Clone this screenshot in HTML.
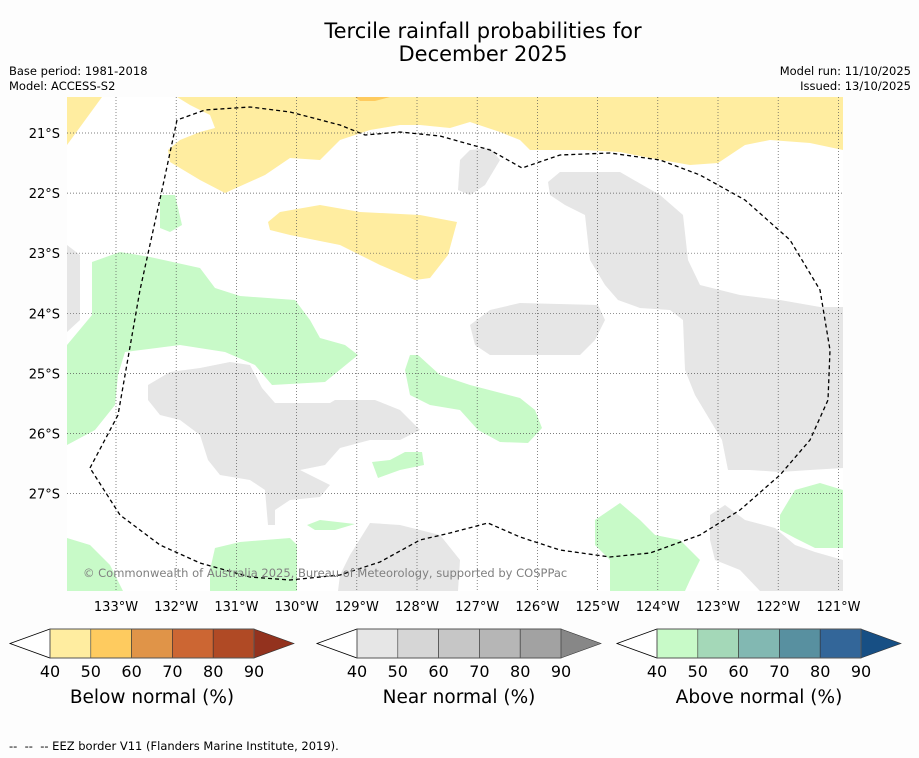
<!DOCTYPE html>
<html><head><meta charset="utf-8">
<style>
body{margin:0;background:#fdfdfd;width:919px;height:758px;overflow:hidden;font-family:"Liberation Sans","DejaVu Sans",sans-serif;}
svg{position:absolute;left:0;top:0}
</style></head>
<body>
<svg width="919" height="758" viewBox="0 0 919 758" xmlns="http://www.w3.org/2000/svg" font-family="'DejaVu Sans','Liberation Sans',sans-serif">
<rect width="919" height="758" fill="#fdfdfd"/>
<text x="483" y="38" text-anchor="middle" font-size="21" fill="#000">Tercile rainfall probabilities for</text>
<text x="483" y="61" text-anchor="middle" font-size="21" fill="#000">December 2025</text>
<text x="9" y="75" font-size="11.5">Base period: 1981-2018</text>
<text x="9" y="90" font-size="11.5">Model: ACCESS-S2</text>
<text x="911" y="75" font-size="11.5" text-anchor="end">Model run: 11/10/2025</text>
<text x="911" y="90" font-size="11.5" text-anchor="end">Issued: 13/10/2025</text>

<defs><clipPath id="mapclip"><rect x="67" y="97" width="776" height="494"/></clipPath></defs>
<g clip-path="url(#mapclip)">
<rect x="67" y="97" width="776" height="494" fill="#ffffff"/>
<g fill="#ffeda0">
<polygon points="67,97 102,97 67,145"/>
<polygon points="177,97 843,97 843,150 810,143 770,140 745,145 718,163 690,165 650,158 620,152 585,150 530,150 520,140 500,132 470,122 450,128 420,125 400,125 370,130 340,140 330,150 320,160 290,158 265,175 225,193 200,180 170,162 168,150 180,140 200,132 215,128 210,115 190,105"/>
<polygon points="268,222 280,212 320,205 360,212 420,215 457,222 448,255 430,278 415,280 380,265 340,245 290,235 270,230"/>
<polygon points="355,97 390,97 375,101 360,101" fill="#fecb5f"/>
</g>
<g fill="#c8fac8">
<polygon points="67,345 92,315 92,262 120,252 150,257 200,268 215,288 240,296 295,300 310,320 320,338 345,345 358,355 325,382 272,385 255,365 225,352 180,345 125,352 118,375 115,405 95,430 67,445"/>
<polygon points="160,195 175,195 182,225 170,232 160,228"/>
<polygon points="410,355 418,355 440,375 470,385 520,398 535,410 542,428 528,443 500,442 478,430 460,410 430,405 410,395 405,370"/>
<polygon points="372,462 390,460 405,452 422,452 424,465 400,470 378,478"/>
<polygon points="307,525 320,520 355,524 335,530 315,530"/>
<polygon points="67,538 90,545 110,565 123,591 67,591"/>
<polygon points="215,548 240,542 290,538 297,545 297,591 210,591 210,570"/>
<polygon points="595,520 620,503 640,520 655,535 680,540 700,560 690,580 685,591 610,591 610,560 595,545"/>
<polygon points="780,515 795,490 820,483 843,490 843,548 815,548 795,538 780,530"/>
</g>
<g fill="#e6e6e6">
<polygon points="67,245 80,255 80,320 67,332"/>
<polygon points="148,385 170,372 200,368 230,362 250,365 262,388 275,403 330,403 335,400 375,400 400,410 420,430 400,440 370,440 340,448 325,465 300,470 330,485 320,497 290,500 275,510 275,525 268,525 265,490 250,480 220,475 208,460 200,435 180,420 160,415 148,400"/>
<polygon points="340,575 350,555 370,523 400,525 440,535 460,560 458,591 338,591"/>
<polygon points="460,160 470,150 490,148 500,160 485,185 470,195 458,190"/>
<polygon points="548,182 560,172 620,172 660,195 683,215 688,260 700,285 740,295 780,300 820,307 843,307 843,468 810,470 780,472 750,470 728,470 722,440 695,395 685,370 683,320 670,310 640,308 618,300 605,285 590,260 585,215 565,205 550,195"/>
<polygon points="470,325 490,310 520,303 598,305 605,320 595,340 580,355 490,355 475,345"/>
<polygon points="710,515 725,505 745,520 775,528 795,545 815,552 843,560 843,591 760,591 740,570 715,560 710,540"/>
</g>
<g id="grid" stroke="#555" stroke-width="0.7" stroke-dasharray="1,2"></g>
<polyline fill="none" stroke="#000" stroke-width="1.3" stroke-dasharray="4,3" points="90,468 118,415 140,290 162,190 177,120 205,110 250,107 290,112 340,125 365,135 400,132 440,136 490,150 522,168 560,155 610,153 660,160 700,175 745,200 790,240 820,290 830,350 828,400 810,440 780,475 740,510 700,535 650,553 610,557 560,550 520,537 488,523 450,533 420,540 380,562 340,575 290,580 250,577 200,563 160,545 120,515 90,468"/>
<text x="83" y="577" font-size="11.5" fill="#808080">© Commonwealth of Australia 2025, Bureau of Meteorology, supported by COSPPac</text>
</g>
<g id="axes" font-size="13"></g>
<g id="bars"></g>
<text x="9" y="750" font-size="11.5" xml:space="preserve" style="white-space:pre">--  --  -- EEZ border V11 (Flanders Marine Institute, 2019).</text>
</svg>
<script>
const lonLabels=["133°W","132°W","131°W","130°W","129°W","128°W","127°W","126°W","125°W","124°W","123°W","122°W","121°W"];
const lonValues=[-133,-132,-131,-130,-129,-128,-127,-126,-125,-124,-123,-122,-121];
const latLabels=["21°S","22°S","23°S","24°S","25°S","26°S","27°S"];
const latValues=[-21,-22,-23,-24,-25,-26,-27];
const cbTicks=[40,50,60,70,80,90];
const belowColors=["#ffeda0","#fecb5f","#e09448","#cc6633","#b04a25","#93321e"];
const nearColors=["#e6e6e6","#d6d6d6","#c6c6c6","#b6b6b6","#a2a2a2","#878787"];
const aboveColors=["#c8fac8","#a4d8b8","#82b8b2","#5890a0","#336699","#174f84"];
const barTitles=["Below normal (%)","Near normal (%)","Above normal (%)"];
const NS="http://www.w3.org/2000/svg";
const xOf=lon=>116+(lon+133)*60.2;
const yOf=lat=>133+(-21-lat)*60.1;
function mk(tag,attrs,parent){const e=document.createElementNS(NS,tag);for(const k in attrs)e.setAttribute(k,attrs[k]);parent.appendChild(e);return e;}
const grid=document.getElementById('grid'),axes=document.getElementById('axes');
lonValues.forEach((v,i)=>{const x=xOf(v);
 const l=mk('line',{x1:x,x2:x,y1:97,y2:591},grid);
 
 
 const t=mk('text',{x:x,y:611,'text-anchor':'middle'},axes);t.textContent=lonLabels[i];
 
 });
latValues.forEach((v,i)=>{const y=yOf(v);
 const l=mk('line',{x1:67,x2:843,y1:y,y2:y},grid);
 
 
 const t=mk('text',{x:60,y:y+5,'text-anchor':'end'},axes);t.textContent=latLabels[i];
 
 });
const bars=document.getElementById('bars');
const starts=[50,357,657];const sets=[belowColors,nearColors,aboveColors];const w=40.8;
sets.forEach((cols,b)=>{const x0=starts[b];const y0=629,y1=658,ym=643.5;
 const g=mk('g',{},bars);
 
 
 mk('polygon',{points:`${x0},${y0} ${x0-40},${ym} ${x0},${y1}`,fill:'#fff',stroke:'#000','stroke-width':0.8},g);
 for(let i=0;i<5;i++)mk('rect',{x:x0+i*w,y:y0,width:w,height:y1-y0,fill:cols[i],stroke:'#333','stroke-width':0.6},g);
 const xe=x0+5*w;
 mk('polygon',{points:`${xe},${y0} ${xe+40},${ym} ${xe},${y1}`,fill:cols[5],stroke:'#333','stroke-width':0.6},g);
 mk('rect',{x:x0,y:y0,width:5*w,height:y1-y0,fill:'none',stroke:'#555','stroke-width':1},g);
 cbTicks.forEach((t,i)=>{const tx=mk('text',{x:x0+i*w,y:677,'text-anchor':'middle','font-size':16},g);tx.textContent=t;
  
  });
 const tt=mk('text',{x:x0+2.5*w,y:703,'text-anchor':'middle','font-size':18.5},g);tt.textContent=barTitles[b];
 
 
});
</script>
</body></html>
